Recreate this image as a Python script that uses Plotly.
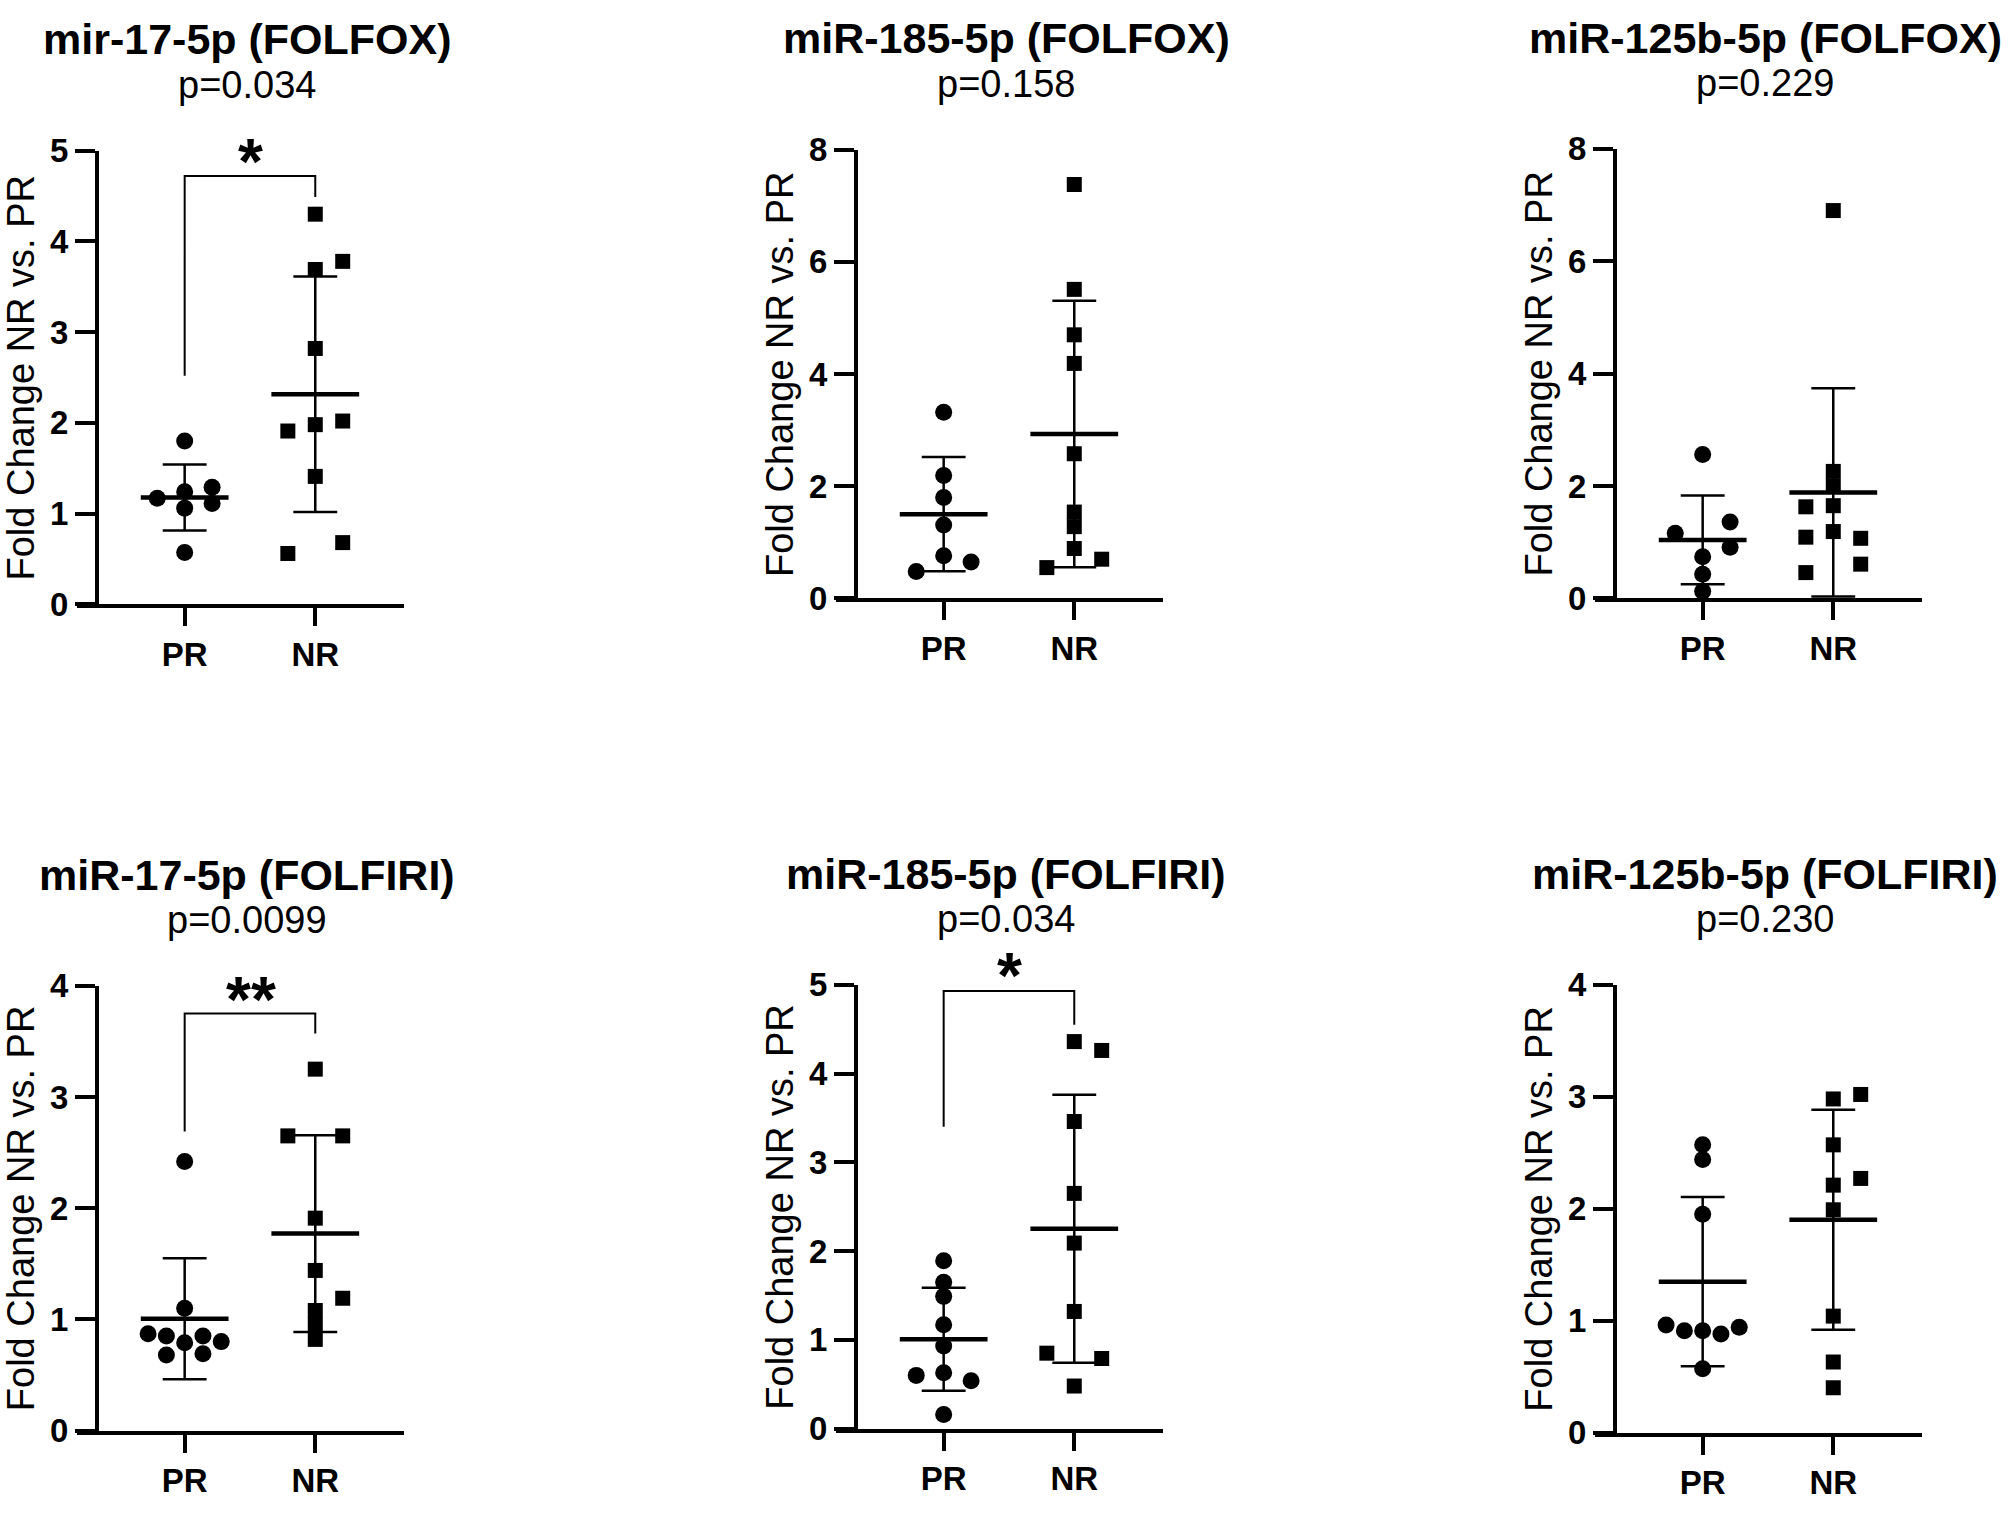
import numpy as np
import plotly.graph_objects as go

W, H = 2008, 1513

# ---- data ----
titles = ["mir-17-5p (FOLFOX)", "miR-185-5p (FOLFOX)", "miR-125b-5p (FOLFOX)",
          "miR-17-5p (FOLFIRI)", "miR-185-5p (FOLFIRI)", "miR-125b-5p (FOLFIRI)"]
pvalues = ["p=0.034", "p=0.158", "p=0.229", "p=0.0099", "p=0.034", "p=0.230"]
groups = ["PR", "NR"]

pr_values = [
    [1.80, 1.29, 1.24, 1.17, 1.11, 1.06, 0.57],
    [3.32, 2.19, 1.80, 1.31, 0.76, 0.65, 0.48],
    [2.56, 1.36, 1.16, 0.91, 0.74, 0.43, 0.13],
    [2.42, 1.10, 0.87, 0.85, 0.85, 0.80, 0.79, 0.68, 0.69],
    [1.89, 1.65, 1.49, 1.17, 0.93, 0.63, 0.60, 0.54, 0.16],
    [2.57, 2.44, 1.95, 0.96, 0.94, 0.91, 0.91, 0.88, 0.57],
]
pr_jitter = [
    [0, .21, 0, -.21, .21, 0, 0],
    [0, 0, 0, 0, 0, .21, -.21],
    [0, .21, -.21, .21, 0, 0, 0],
    [0, 0, -.28, -.14, .14, .28, 0, -.14, .14],
    [0, 0, 0, 0, 0, 0, -.21, .21, 0],
    [0, 0, 0, -.28, .28, -.14, 0, .14, 0],
]
nr_values = [
    [4.30, 3.78, 3.69, 2.82, 2.02, 1.98, 1.91, 1.41, 0.68, 0.56],
    [7.38, 5.51, 4.70, 4.19, 2.58, 1.54, 1.28, 0.89, 0.70, 0.55],
    [6.90, 2.26, 2.00, 1.65, 1.63, 1.19, 1.09, 1.07, 0.61, 0.46],
    [3.25, 2.65, 2.65, 1.91, 1.44, 1.19, 1.08, 0.95, 0.82],
    [4.36, 4.26, 3.46, 2.65, 2.09, 1.32, 0.85, 0.79, 0.48],
    [3.02, 2.98, 2.57, 2.27, 2.21, 1.99, 1.04, 0.63, 0.40],
]
nr_jitter = [
    [0, .21, 0, 0, .21, 0, -.21, 0, .21, -.21],
    [0, 0, 0, 0, 0, 0, 0, 0, .21, -.21],
    [0, 0, 0, 0, -.21, 0, -.21, .21, .21, -.21],
    [0, -.21, .21, 0, 0, .21, 0, 0, 0],
    [0, .21, 0, 0, 0, 0, -.21, .21, 0],
    [.21, 0, 0, .21, 0, 0, 0, 0, 0],
]
y_max = [5, 8, 8, 4, 5, 4]
y_dtick = [1, 2, 2, 1, 1, 1]
# panel: (PR leg start, bracket top, NR leg end, star height, label)
brackets = {
    0: (2.52, 4.72, 4.49, 5.03, "*"),
    3: (2.69, 3.75, 3.57, 4.00, "**"),
    4: (3.40, 4.93, 4.55, 5.26, "*"),
}

# ---- layout (pixels) ----
axis_x = [97, 856, 1615]
panel_bottom = [601, 595, 595, 1448, 1446, 1450]
panel_top = [136, 135, 134, 992, 991, 991]
unit = 131.0  # px between PR and NR
FONT = "Liberation Sans, Arial, sans-serif"

fig = go.Figure()
annotations = []
layout_axes = {}


def note(x, y, text, size, **kw):
    d = dict(x=x, y=y, xref="paper", yref="paper", text=text, showarrow=False,
             xanchor="center", yanchor="middle",
             font=dict(family=FONT, size=size, color="black"))
    d.update(kw)
    annotations.append(d)


for i in range(6):
    c = i % 3
    sx = "" if i == 0 else str(i + 1)
    xa, ya = "x" + sx, "y" + sx
    ax0 = axis_x[c]
    bot, top = panel_bottom[i], panel_top[i]
    y_dom = [1 - bot / H, 1 - top / H]

    layout_axes["xaxis" + sx] = dict(
        domain=[(ax0 - 20) / W, (ax0 + 307) / W],
        range=[-(88 + 20) / unit, 1 + 89 / unit],
        anchor=ya, showline=True, linewidth=4, linecolor="black",
        ticks="outside", ticklen=18, tickwidth=4, tickcolor="black",
        tickvals=[0, 1], ticktext=groups,
        tickfont=dict(family=FONT, size=33, color="black", weight="bold"),
        showgrid=False, zeroline=False, fixedrange=True,
    )
    layout_axes["yaxis" + sx] = dict(
        domain=y_dom,
        range=[0, y_max[i]], dtick=y_dtick[i], tick0=0,
        anchor="free", position=ax0 / W,
        showline=True, linewidth=4, linecolor="black",
        ticks="outside", ticklen=20, tickwidth=4, tickcolor="black",
        tickfont=dict(family=FONT, size=33, color="black", weight="bold"),
        showgrid=False, zeroline=False, fixedrange=True,
    )

    for k, (vals, jit, sym, msize) in enumerate(
            [(pr_values[i], pr_jitter[i], "circle", 17),
             (nr_values[i], nr_jitter[i], "square", 15)]):
        v = np.array(vals)
        m, sd = v.mean(), v.std(ddof=1)
        # points
        fig.add_trace(go.Scatter(
            x=[k + j for j in jit], y=vals, mode="markers",
            marker=dict(symbol=sym, size=msize, color="black"),
            xaxis=xa, yaxis=ya, showlegend=False, cliponaxis=False))
        # mean line
        fig.add_trace(go.Scatter(
            x=[k - 0.336, k + 0.336], y=[m, m], mode="lines",
            line=dict(color="black", width=4.5),
            xaxis=xa, yaxis=ya, showlegend=False))
        # SD bar with caps
        fig.add_trace(go.Scatter(
            x=[k, k, None, k - 0.168, k + 0.168, None, k - 0.168, k + 0.168],
            y=[m - sd, m + sd, None, m + sd, m + sd, None, m - sd, m - sd],
            mode="lines", line=dict(color="black", width=2.5),
            xaxis=xa, yaxis=ya, showlegend=False))

    if i in brackets:
        y_pr, y_top, y_nr, y_star, label = brackets[i]
        fig.add_trace(go.Scatter(
            x=[0, 0, 1, 1], y=[y_pr, y_top, y_top, y_nr], mode="lines",
            line=dict(color="black", width=2),
            xaxis=xa, yaxis=ya, showlegend=False))
        # star sits above the axis range, so place it in paper units
        star_px = (ax0 + 88 + 0.5 * unit) / W
        star_py = y_dom[0] + (y_dom[1] - y_dom[0]) * y_star / y_max[i]
        note(star_px, star_py, "<b>%s</b>" % label, 64, yshift=-14)

    # panel title, p-value and y-axis title
    note((ax0 + 150) / W, 1 - (top - 114) / H, "<b>%s</b>" % titles[i], 43)
    note((ax0 + 150) / W, 1 - (top - 67) / H, pvalues[i], 38)
    note((ax0 - 76) / W, 1 - (top + bot) / 2 / H, "Fold Change NR vs. PR", 38,
         textangle=-90)

fig.update_layout(
    width=W, height=H, margin=dict(l=0, r=0, t=0, b=0),
    paper_bgcolor="white", plot_bgcolor="white",
    annotations=annotations, **layout_axes)

# drop the default page margin so the figure fills the window exactly
fig.write_html("out.html", config={"displayModeBar": False},
               post_script="document.body.style.margin='0';")
